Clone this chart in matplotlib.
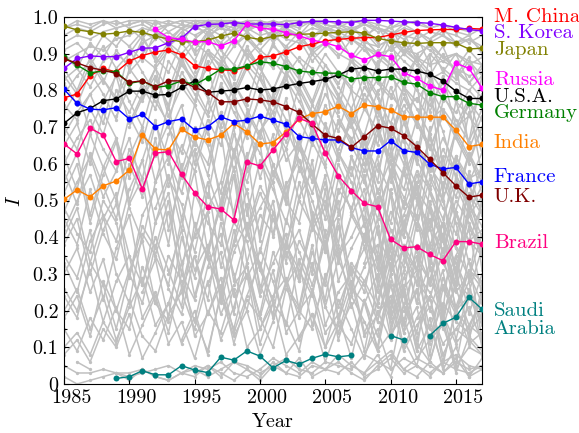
import numpy as np
import matplotlib
matplotlib.use("Agg")
from matplotlib import pyplot as plt
from matplotlib.ticker import MultipleLocator
from matplotlib.transforms import ScaledTranslation

plt.rcParams['font.family'] = 'cmr10'
plt.rcParams['mathtext.fontset'] = 'cm'
plt.rcParams['axes.unicode_minus'] = False
plt.rcParams['axes.linewidth'] = 0.8

years = list(range(1985, 2018))

# highlighted countries (1985 - 2017), None = no data
china = [0.78, 0.79, 0.84, 0.86, 0.85, 0.88, 0.895, 0.905, 0.91, 0.897, 0.867,
         0.860, 0.856, 0.854, 0.865, 0.890, 0.894, 0.905, 0.919, 0.926, 0.935,
         0.939, 0.942, 0.944, 0.944, 0.951, 0.958, 0.963, 0.965, 0.966, 0.966,
         0.969, 0.967]
korea = [0.860, 0.887, 0.894, 0.892, 0.892, 0.904, 0.915, 0.916, 0.930, 0.942,
         0.974, 0.980, 0.981, 0.985, 0.981, 0.981, 0.981, 0.979, 0.985, 0.988,
         0.988, 0.987, 0.985, 0.991, 0.991, 0.989, 0.987, 0.985, 0.983, 0.978,
         0.972, 0.966, 0.962]
japan = [0.975, 0.965, 0.960, 0.953, 0.956, 0.962, 0.958, 0.948, 0.940, 0.932,
         0.933, 0.937, 0.948, 0.956, 0.945, 0.939, 0.947, 0.951, 0.953, 0.954,
         0.956, 0.958, 0.960, 0.956, 0.942, 0.935, 0.930, 0.928, 0.930, 0.930,
         0.929, 0.913, 0.915]
russia = [None] * 7 + [0.966, 0.944, 0.939, 0.932, 0.933, 0.921, 0.935, 0.981,
          0.969, 0.967, 0.957, 0.949, 0.937, 0.930, 0.919, 0.896, 0.883, 0.898,
          0.892, 0.848, 0.833, 0.812, 0.801, 0.874, 0.860, 0.806]
usa = [0.710, 0.739, 0.751, 0.772, 0.777, 0.798, 0.798, 0.787, 0.789, 0.808,
       0.826, 0.795, 0.798, 0.801, 0.808, 0.801, 0.804, 0.812, 0.819, 0.824,
       0.830, 0.842, 0.858, 0.862, 0.853, 0.858, 0.858, 0.853, 0.844, 0.826,
       0.798, 0.778, 0.778]
germany = [0.890, 0.869, 0.848, 0.853, 0.851, 0.819, 0.826, 0.808, 0.813, 0.826,
           0.815, 0.835, 0.858, 0.858, 0.867, 0.878, 0.874, 0.865, 0.853, 0.849,
           0.847, 0.847, 0.831, 0.835, 0.835, 0.837, 0.822, 0.817, 0.794, 0.783,
           0.783, 0.765, 0.760]
india = [0.503, 0.529, 0.510, 0.540, 0.553, 0.583, 0.678, 0.640, 0.638, 0.694,
         0.673, 0.665, 0.678, 0.710, 0.687, 0.654, 0.658, 0.687, 0.722, 0.737,
         0.742, 0.757, 0.737, 0.760, 0.756, 0.747, 0.728, 0.727, 0.727, 0.727,
         0.692, 0.647, 0.653]
france = [0.803, 0.765, 0.749, 0.747, 0.753, 0.722, 0.735, 0.701, 0.715, 0.722,
          0.692, 0.701, 0.728, 0.715, 0.719, 0.730, 0.719, 0.708, 0.674, 0.669,
          0.665, 0.665, 0.644, 0.635, 0.635, 0.663, 0.636, 0.631, 0.599, 0.586,
          0.590, 0.545, 0.551]
uk = [0.885, 0.875, 0.862, 0.855, 0.846, 0.822, 0.826, 0.810, 0.826, 0.826,
      0.808, 0.795, 0.769, 0.769, 0.777, 0.774, 0.769, 0.756, 0.740, 0.708,
      0.678, 0.669, 0.645, 0.674, 0.704, 0.697, 0.677, 0.647, 0.612, 0.576,
      0.540, 0.509, 0.515]
brazil = [0.654, 0.627, 0.697, 0.678, 0.606, 0.615, 0.531, 0.629, 0.633, 0.571,
          0.521, 0.483, 0.477, 0.447, 0.605, 0.594, 0.638, 0.681, 0.724, 0.710,
          0.629, 0.567, 0.527, 0.492, 0.483, 0.394, 0.371, 0.374, 0.353, 0.336,
          0.388, 0.388, 0.381]
saudi = [None] * 4 + [0.015, 0.020, 0.036, 0.025, 0.025, 0.050, 0.038, 0.031,
         0.073, 0.065, 0.090, 0.076, 0.044, 0.064, 0.054, 0.070, 0.081, 0.074,
         0.078, None, None, 0.132, 0.120, None, 0.132, 0.165, 0.182, 0.236, 0.204]

countries = ['M. China', 'S. Korea', 'Japan', 'Russia', 'U.S.A.', 'Germany',
             'India', 'France', 'U.K.', 'Brazil', 'Saudi\nArabia']
series = [china, korea, japan, russia, usa, germany, india, france, uk, brazil, saudi]
colors = ['#ff0000', '#8000ff', '#808000', '#ff00ff', '#000000', '#008000',
          '#ff8000', '#0000ff', '#800000', '#ff0080', '#008080']
label_y = [1.0, 0.956, 0.910, 0.828, 0.782, 0.738, 0.657, 0.564, 0.510, 0.384, 0.174]

# the remaining countries (values in %, '..' = no data)
gray_series = [
    "93 95 94 96 97 98 99 99 98 99 99 98 99 99 98 97 98 99 99 98 97 96 97 98 97 96 95 94 96 95 93 94 92",
    "88 90 92 91 94 95 97 96 98 97 99 99 97 96 97 98 97 96 95 97 96 94 95 93 92 94 91 90 92 89 90 88 87",
    ".. .. .. .. .. .. 90 94 96 98 97 96 98 99 97 95 96 94 93 95 97 96 94 92 90 91 93 89 87 88 86 84 85",
    "83 86 81 88 90 87 93 95 92 96 98 97 95 98 96 93 95 97 94 91 93 90 88 92 89 86 90 87 83 85 82 80 84",
    "76 72 79 83 78 85 89 86 91 88 93 90 87 92 95 91 88 84 89 86 82 85 80 77 83 79 74 78 72 75 70 73 68",
    "95 97 96 98 99 97 98 96 94 97 98 99 98 97 99 98 96 97 98 99 98 97 99 98 96 97 98 99 97 98 96 95 97",
    "70 64 75 68 80 74 82 77 71 85 79 73 81 76 69 78 72 66 74 70 63 71 67 60 68 62 57 65 59 54 62 56 58",
    "65 71 60 74 67 56 69 62 76 58 70 65 52 68 61 73 57 64 50 66 59 47 62 55 45 58 51 43 56 48 41 52 46",
    "58 49 63 54 45 60 51 67 42 57 64 48 55 70 46 61 53 44 59 50 38 56 47 40 53 42 35 49 44 36 47 39 42",
    "52 60 44 57 66 48 39 55 62 45 58 36 50 63 42 54 47 33 51 58 40 46 53 37 49 31 44 52 35 41 30 46 38",
    "45 38 53 41 34 49 56 35 47 30 52 44 38 57 33 46 41 55 29 43 50 35 40 48 27 42 36 31 45 33 26 39 35",
    "40 48 33 45 52 29 43 37 50 26 41 55 32 44 39 24 47 35 42 30 53 28 37 44 22 38 32 46 27 35 21 31 28",
    "35 29 42 23 37 46 27 40 31 21 44 34 26 38 49 25 33 41 20 36 27 45 24 32 38 19 34 28 23 37 25 30 22",
    "30 37 25 34 20 31 39 22 35 28 17 32 41 24 30 19 36 27 33 16 29 37 21 28 35 18 26 31 15 27 20 24 17",
    "26 20 31 17 28 35 18 25 14 30 23 36 19 27 32 15 24 29 18 33 21 14 26 22 30 13 20 25 12 22 17 14 19",
    "20 26 15 24 12 21 29 16 22 33 13 19 27 11 23 18 31 14 20 25 10 17 28 13 19 24 9 16 21 11 15 12 8",
    "15 9 18 12 21 8 16 24 11 17 7 20 14 26 10 15 22 8 13 19 6 16 11 23 9 14 18 7 12 16 5 10 8",
    "5 3 3 4 3 3 4 2 1 3 5 4 6 3 2 4 7 5 3 6 4 8 5 3 6 9 4 7 5 3 6 4 5",
    ".. 6 4 .. 3 2 3 4 5 3 4 2 4 6 5 3 5 7 4 3 6 5 4 8 6 4 7 5 3 6 8 5 4",
    "82 76 85 79 72 86 81 75 88 83 77 90 84 78 86 80 74 83 77 70 79 73 66 75 69 62 71 64 58 67 60 55 63",
    "74 80 69 77 84 71 79 86 73 81 76 88 70 82 75 68 78 84 72 65 76 69 80 63 71 58 67 61 54 64 57 50 59",
    ".. .. .. .. .. 62 70 55 68 76 60 72 65 79 58 69 74 61 66 55 71 63 57 68 52 61 48 58 53 45 56 49 43",
    ".. .. .. .. .. .. .. .. .. .. 85 91 88 94 90 86 92 89 84 91 87 82 88 85 79 86 81 77 83 78 74 80 76",
    ".. .. .. .. .. .. .. 48 57 42 63 51 69 45 58 66 40 54 61 47 36 52 59 43 50 34 46 55 38 44 31 49 40",
    ".. .. .. .. .. .. 25 34 18 40 29 47 22 36 44 27 19 38 31 24 42 17 33 28 21 37 14 30 25 18 32 12 26",
    ".. .. .. .. .. .. .. .. .. 12 20 8 25 15 30 11 22 17 9 26 14 19 7 23 13 28 10 18 24 8 15 21 11",
    ".. .. .. .. .. .. .. .. .. .. .. .. 55 47 63 39 58 50 44 61 36 53 48 57 41 32 50 45 37 52 29 43 35",
    ".. .. .. .. .. .. .. .. .. .. .. .. .. .. .. 72 64 78 58 70 83 61 74 67 55 76 62 50 68 57 47 63 52",
    ".. .. .. .. .. .. .. .. .. .. .. .. .. .. .. .. .. .. .. .. .. .. .. 33 45 20 38 27 50 16 35 42 24",
    ".. .. .. .. .. .. .. .. .. .. .. .. .. .. .. .. .. .. .. .. .. .. .. 8 15 4 22 11 6 18 3 13 9",
    ".. .. .. .. .. .. .. .. .. .. .. .. .. .. .. .. .. .. .. .. .. .. .. 60 48 67 40 55 31 62 44 28 51",
    ".. .. .. .. .. .. .. .. .. .. .. .. .. .. .. .. .. .. .. .. .. .. .. 92 86 95 80 89 74 84 70 78 66",
    "97 98 97 99 98 99 99 98 99 98 97 99 99 98 99 99 98 99 98 99 99 98 99 99 98 97 99 98 97 98 97 96 97",
    "90 86 93 89 95 92 88 96 93 90 94 97 92 95 89 93 96 91 94 88 92 95 89 86 91 87 83 89 85 80 86 82 78",
    "60 67 72 64 58 73 66 79 70 63 76 68 82 74 67 79 71 64 75 69 60 72 65 58 70 61 53 66 57 50 62 54 47",
    "48 41 36 50 44 29 46 53 38 60 43 35 49 57 41 52 45 37 55 42 48 33 46 39 51 30 43 36 28 40 33 25 37",
    "38 45 30 42 49 35 27 44 52 33 40 47 24 39 53 31 45 36 28 43 37 50 26 41 34 22 38 31 43 26 35 19 30",
    "10 14 8 17 11 23 13 9 19 25 15 28 12 21 33 18 10 26 20 15 30 12 24 17 9 27 14 21 6 19 11 16 13",
    ".. .. .. .. .. 92 96 94 98 97 95 97 98 96 99 97 95 98 96 94 97 95 93 96 92 94 90 93 91 88 90 87 89",
    ".. .. .. .. .. .. .. .. 79 87 83 91 86 80 89 84 93 87 81 90 85 78 88 82 75 84 79 71 81 74 68 77 72",
    ".. .. .. .. .. .. .. .. .. .. .. .. .. .. .. .. .. .. .. .. .. .. .. .. .. 55 68 42 61 50 37 58 46",
    ".. .. .. .. .. .. .. .. .. .. .. .. .. .. .. .. .. .. .. .. .. .. .. .. .. 14 27 9 32 20 5 24 16",
    ".. .. .. .. .. .. .. .. .. .. .. .. .. .. .. .. .. .. .. .. .. .. .. 40 31 52 25 44 36 20 47 33 27",
    "55 63 46 59 67 50 61 72 54 65 58 70 49 62 73 56 68 51 64 57 45 60 52 66 48 57 43 53 47 39 50 44 36",
    "24 18 33 27 15 30 22 38 26 19 35 23 44 30 20 37 28 16 34 25 39 21 31 27 17 33 24 14 29 20 26 16 23",
    ".. .. .. .. .. .. .. .. .. .. 3 5 2 6 4 1 5 3 7 2 4 6 3 1 5 8 4 2 6 3 7 2 4",
    ".. .. .. .. .. .. .. .. .. .. .. .. .. .. .. .. .. .. .. .. .. .. .. 75 88 63 81 70 90 58 77 66 84",
    ".. .. .. .. .. .. .. .. .. .. .. .. .. .. .. .. .. .. .. .. .. .. .. 97 93 98 90 95 87 92 84 89 80",
    "86 80 89 83 77 91 85 79 93 87 82 95 89 84 91 86 80 88 83 76 85 79 72 81 75 68 78 71 64 74 67 60 70",
    ".. .. .. .. .. .. .. .. 30 42 24 37 48 28 41 33 22 45 36 27 39 18 32 25 43 15 29 35 20 31 12 26 19",
    ".. .. .. .. .. .. .. .. .. .. 94 97 99 98 96 99 98 97 99 98 96 98 97 95 97 96 94 96 93 95 92 94 91",
    ".. .. .. .. .. .. .. 87 92 95 91 96 93 97 94 91 95 92 96 90 93 89 94 91 87 92 88 85 90 86 83 88 84",
    "91 93 89 95 92 97 94 99 96 93 98 95 97 99 96 98 94 97 95 99 96 93 97 94 90 95 91 88 93 89 86 91 87",
    ".. .. .. .. .. .. .. .. .. .. .. .. .. .. .. 96 99 97 98 99 97 98 96 99 97 95 98 96 94 97 93 95 90",
    "79 84 88 82 91 86 94 89 85 93 88 96 91 87 94 90 86 92 88 83 90 85 81 87 82 78 85 80 76 82 77 73 79",
    ".. .. .. .. .. 70 78 84 75 88 81 86 92 79 87 83 76 85 80 73 82 77 70 79 74 67 76 71 64 73 68 61 70",
    "68 74 79 71 85 77 70 83 76 89 81 74 86 79 72 84 77 69 81 74 66 78 71 63 75 68 60 72 65 57 69 62 55",
    "62 53 68 59 50 64 56 71 61 52 67 57 74 63 55 69 60 51 66 58 48 63 55 45 60 52 42 57 49 40 54 46 51",
    "42 50 57 46 39 53 61 44 56 49 36 52 45 59 41 48 55 38 50 43 57 35 46 53 32 47 40 54 33 44 37 29 41",
    "33 25 39 46 30 22 41 35 27 45 31 38 24 42 29 36 50 27 39 32 23 43 30 37 25 40 21 34 28 44 19 31 26",
    "18 24 13 28 20 15 32 22 17 26 35 19 29 14 24 33 18 27 21 38 16 25 30 14 22 35 17 26 11 29 20 15 24",
    "8 12 6 15 10 19 7 14 22 11 18 9 24 13 20 8 17 28 12 19 10 23 15 7 20 12 25 9 16 5 21 11 14",
    ".. .. .. .. .. .. .. .. .. .. .. .. .. .. .. .. .. .. .. .. .. .. .. 85 72 90 66 82 59 77 88 64 73",
    ".. .. .. .. .. .. .. .. .. .. .. .. .. .. .. .. .. .. .. .. .. .. .. 50 62 37 58 45 70 33 55 48 60",
    ".. .. .. .. .. .. .. .. .. .. .. .. .. .. .. .. .. .. .. .. .. .. .. 22 10 30 16 38 8 26 19 34 12",
    ".. .. .. .. .. .. .. .. .. .. .. .. .. .. .. .. .. .. .. .. .. .. .. 3 8 2 12 5 18 4 10 2 7",
    ".. .. .. .. .. .. .. .. .. .. .. .. .. .. .. .. .. .. .. .. .. .. .. 68 80 56 74 61 83 52 69 76 57",
    ".. .. .. .. .. .. .. .. .. .. .. .. .. .. .. .. .. .. .. .. .. .. .. 45 28 53 36 22 48 39 26 57 31",
    ".. .. .. .. .. .. .. .. .. .. .. .. .. 82 76 88 71 85 79 68 83 74 90 77 65 81 72 60 78 69 56 74 63",
    ".. .. .. .. .. .. .. .. .. .. .. 57 46 64 52 41 60 49 68 44 55 38 62 50 35 58 44 31 53 40 27 48 36",
    ".. .. .. .. .. .. .. .. .. .. .. 27 36 19 42 31 23 39 28 46 21 34 25 41 17 30 37 22 33 15 28 24 18",
    "97 99 98 99 97 98 99 97 98 99 98 97 99 98 97 98 99 98 97 99 98 97 96 98 97 95 97 96 94 96 95 93 95",
    "84 79 87 92 86 90 95 88 93 97 90 94 98 92 96 99 93 97 95 91 96 93 89 94 90 87 92 88 84 90 85 82 86",
    ".. .. .. .. 73 81 77 86 80 90 84 78 88 83 92 86 80 89 84 77 87 81 75 84 78 71 81 75 68 79 72 66 75",
    "47 55 62 51 58 67 53 63 71 56 66 60 74 58 69 63 55 70 61 52 65 57 47 62 53 44 59 50 42 55 46 39 49",
    ".. .. .. .. .. .. .. .. .. .. .. .. .. .. .. .. .. .. .. .. .. 64 71 55 68 60 49 65 52 43 61 47 54",
    ".. .. .. .. .. .. .. .. .. .. .. .. .. .. .. .. .. .. .. .. .. 14 22 9 27 17 31 12 24 6 20 28 10",
    "2 0 1 2 3 1 4 2 1 3 2 5 3 1 4 2 6 3 2 5 4 3 6 2 4 7 3 5 2 6 4 3 5",
    ".. .. .. .. .. .. .. .. 60 71 65 77 69 63 74 67 79 72 64 76 70 61 73 66 58 70 62 54 67 59 51 63 56",
    ".. .. .. .. .. .. .. .. .. .. .. .. .. .. .. .. .. .. .. .. .. .. .. 94 98 91 96 88 93 85 90 82 87",
]


def to_array(vals):
    return np.array([np.nan if v is None else v for v in vals], dtype=float)


def parse_gray(s):
    return np.array([np.nan if t == '..' else int(t) / 100.0 for t in s.split()])


fig, ax = plt.subplots(figsize=(5.79, 4.33), dpi=100)
fig.subplots_adjust(left=0.1105, right=0.8325, bottom=0.1132, top=0.9607)

# Background Countries
for s in gray_series:
    ax.plot(years, parse_gray(s), color='#c0c0c0', linewidth=1.1, marker='o',
            markersize=2.4, markeredgewidth=0, zorder=1)

# Highlighted Countries
for vals, c in zip(series, colors):
    ax.plot(years, to_array(vals), color=c, linewidth=1.0, marker='o',
            markersize=4.3, markeredgewidth=0, zorder=3)

# Country Names On The Right
for name, c, ly in zip(countries, colors, label_y):
    ax.text(2017.9, ly, name, color=c, fontsize=15, va='center', ha='left',
            clip_on=False, linespacing=1.0)

ax.set_xlim(1985, 2017)
ax.set_ylim(0, 1.0)
ax.set_xticks([1985, 1990, 1995, 2000, 2005, 2010, 2015])
ax.set_yticks(np.arange(0, 1.01, 0.1))
ax.set_yticklabels(['0'] + ['%.1f' % v for v in np.arange(0.1, 1.01, 0.1)])
ax.yaxis.set_minor_locator(MultipleLocator(0.05))
ax.tick_params(axis='both', which='both', direction='in', labelsize=14.5,
               right=True, top=False)
ax.tick_params(which='major', length=3.5, width=0.8)
ax.tick_params(which='minor', length=2, width=0.8)
ax.tick_params(axis='x', pad=4)
ax.tick_params(axis='y', pad=4)

# Shift x labels slightly to the right as in the original
for lab in ax.get_xticklabels():
    lab.set_transform(lab.get_transform() + ScaledTranslation(0.07, 0, fig.dpi_scale_trans))

ax.set_xlabel('Year', fontsize=14.5, labelpad=4)
ax.set_ylabel('$I$', fontsize=14.5, labelpad=6)

fig.savefig('out.png', dpi=100)
